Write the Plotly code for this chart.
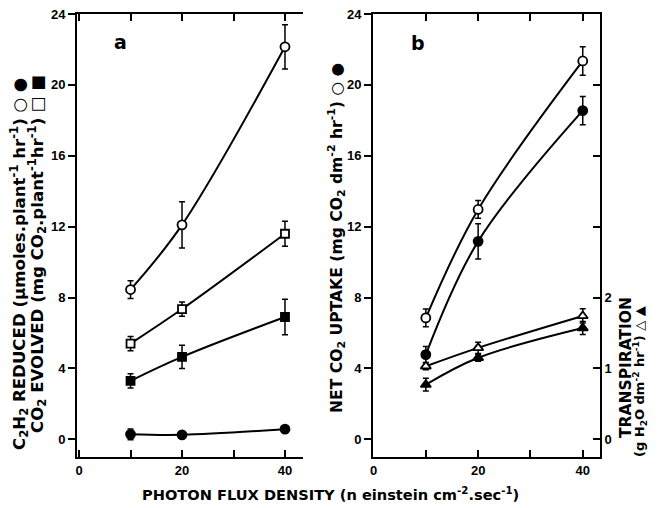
import plotly.graph_objects as go

# ---------------- data ----------------
flux = [10, 20, 40]  # photon flux density (n einstein cm-2 sec-1)

# panel a
a_c2h2_open = [8.45, 12.1, 22.15]
a_c2h2_open_err = [0.5, 1.3, 1.25]
a_c2h2_filled = [0.28, 0.25, 0.57]
a_c2h2_filled_err = [0.3, 0.0, 0.0]
a_co2_open = [5.4, 7.35, 11.6]
a_co2_open_err = [0.4, 0.4, 0.7]
a_co2_filled = [3.3, 4.65, 6.9]
a_co2_filled_err = [0.4, 0.65, 1.0]

# panel b
b_net_open = [6.85, 12.97, 21.35]
b_net_open_err = [0.5, 0.5, 0.8]
b_net_filled = [4.78, 11.17, 18.55]
b_net_filled_err = [0.45, 1.0, 0.8]
b_tr_open = [1.03, 1.29, 1.74]
b_tr_open_err = [0.05, 0.08, 0.1]
b_tr_filled = [0.77, 1.15, 1.57]
b_tr_filled_err = [0.09, 0.05, 0.09]

y_ticks = [0, 4, 8, 12, 16, 20, 24]
x_tickvals = [0, 10, 20, 30, 40]
x_ticktext = ["0", "", "20", "", "40"]
tr_tickvals = [0, 1, 2, 3, 4, 5, 6]
tr_ticktext = ["0", "1", "2", "", "", "", ""]

# page body has an 8px margin: figure is drawn at (8, 8) in the window
OFF = 8
W, H = 658 - OFF, 508 - OFF
FONT = "Liberation Sans"
TFONT = "DejaVu Sans"


def px(x):
    return (x - OFF) / W


def py(y):
    return 1 - (y - OFF) / H


def series(x, y, err, symbol, filled, xa, ya, size=9):
    return go.Scatter(
        x=x, y=y, xaxis=xa, yaxis=ya, mode="lines+markers",
        line=dict(color="black", width=2, shape="spline", smoothing=1.0),
        marker=dict(symbol=symbol, size=size,
                    color="black" if filled else "white",
                    line=dict(color="black", width=1.8)),
        error_y=dict(type="data", array=err, visible=True, color="black",
                     thickness=1.5, width=3),
        showlegend=False, hoverinfo="skip", cliponaxis=False)


fig = go.Figure()
fig.add_trace(series(flux, a_c2h2_open, a_c2h2_open_err, "circle", False, "x", "y"))
fig.add_trace(series(flux, a_co2_open, a_co2_open_err, "square", False, "x", "y", 8))
fig.add_trace(series(flux, a_co2_filled, a_co2_filled_err, "square", True, "x", "y", 8))
fig.add_trace(series(flux, a_c2h2_filled, a_c2h2_filled_err, "circle", True, "x", "y"))

fig.add_trace(series(flux, b_net_open, b_net_open_err, "circle", False, "x2", "y3"))
fig.add_trace(series(flux, b_net_filled, b_net_filled_err, "circle", True, "x2", "y3"))
fig.add_trace(series(flux, b_tr_open, b_tr_open_err, "triangle-up", False, "x2", "y4"))
fig.add_trace(series(flux, b_tr_filled, b_tr_filled_err, "triangle-up", True, "x2", "y4"))

tickfont = dict(family=FONT, size=13, color="black", weight="bold")
ydom = [py(457), py(14)]

xcommon = dict(tickvals=x_tickvals, ticktext=x_ticktext, ticks="inside", ticklen=7,
               tickwidth=1.5, showline=True, linewidth=2, linecolor="black",
               mirror="ticks", showgrid=False, zeroline=False, tickfont=tickfont,
               tickcolor="black", automargin=False, ticklabeloverflow="allow")
ycommon = dict(showline=True, linewidth=2, linecolor="black", showgrid=False,
               zeroline=False, tickfont=tickfont, tickcolor="black", tickwidth=1.5,
               ticklen=7, automargin=False, ticklabeloverflow="allow")

fig.update_layout(
    template="none",
    width=W, height=H, margin=dict(l=0, r=0, t=0, b=0, autoexpand=False),
    paper_bgcolor="white", plot_bgcolor="white",
    xaxis=dict(domain=[px(77), px(303)], range=[-0.4, 43.5], anchor="y", **xcommon),
    xaxis2=dict(domain=[px(373), px(600)], range=[-0.1, 43.3], anchor="y3", **xcommon),
    yaxis=dict(domain=ydom, range=[-1, 24], anchor="x", tickvals=y_ticks,
               ticks="outside", side="left", **ycommon),
    yaxis2=dict(domain=ydom, range=[-1, 24], anchor="x", overlaying="y",
                tickvals=y_ticks, ticks="inside", side="right",
                showticklabels=False, **ycommon),
    yaxis3=dict(domain=ydom, range=[-1, 24], anchor="x2", tickvals=y_ticks,
                ticks="outside", side="left", **ycommon),
    yaxis4=dict(domain=ydom, range=[-0.25, 6], anchor="x2", overlaying="y3",
                tickvals=tr_tickvals, ticktext=tr_ticktext, ticks="inside",
                side="right", **ycommon),
)


def tf(size):
    return dict(family=TFONT, size=size, color="black", weight="bold")


ann = [
    dict(text="C<sub>2</sub>H<sub>2</sub> REDUCED (µmoles.plant<sup>-1</sup> hr<sup>-1</sup>) ○ ●",
         x=px(19), y=py(264), textangle=-90, font=tf(16.6)),
    dict(text="CO<sub>2</sub> EVOLVED (mg CO<sub>2</sub>.plant<sup>-1</sup>hr<sup>-1</sup>) □ ■",
         x=px(37), y=py(254), textangle=-90, font=tf(16.6)),
    dict(text="NET CO<sub>2</sub> UPTAKE (mg CO<sub>2</sub> dm<sup>-2</sup> hr<sup>-1</sup>) ○ ●",
         x=px(337), y=py(238), textangle=-90, font=tf(15.6)),
    dict(text="TRANSPIRATION", x=px(626), y=py(368), textangle=-90, font=tf(15.5)),
    dict(text="(g H<sub>2</sub>O dm<sup>-2</sup> hr<sup>-1</sup>) △ ▲",
         x=px(640), y=py(382), textangle=-90, font=tf(13)),
    dict(text="PHOTON FLUX DENSITY (n einstein cm<sup>-2</sup>.sec<sup>-1</sup>)",
         x=px(330), y=py(494), textangle=0, font=tf(14.6)),
    dict(text="a", x=px(120), y=py(42), textangle=0, font=tf(19)),
    dict(text="b", x=px(418), y=py(43), textangle=0, font=tf(19)),
]
for a in ann:
    fig.add_annotation(xref="paper", yref="paper", showarrow=False,
                       xanchor="center", yanchor="middle", borderpad=0, **a)

fig.write_html("out.html")
